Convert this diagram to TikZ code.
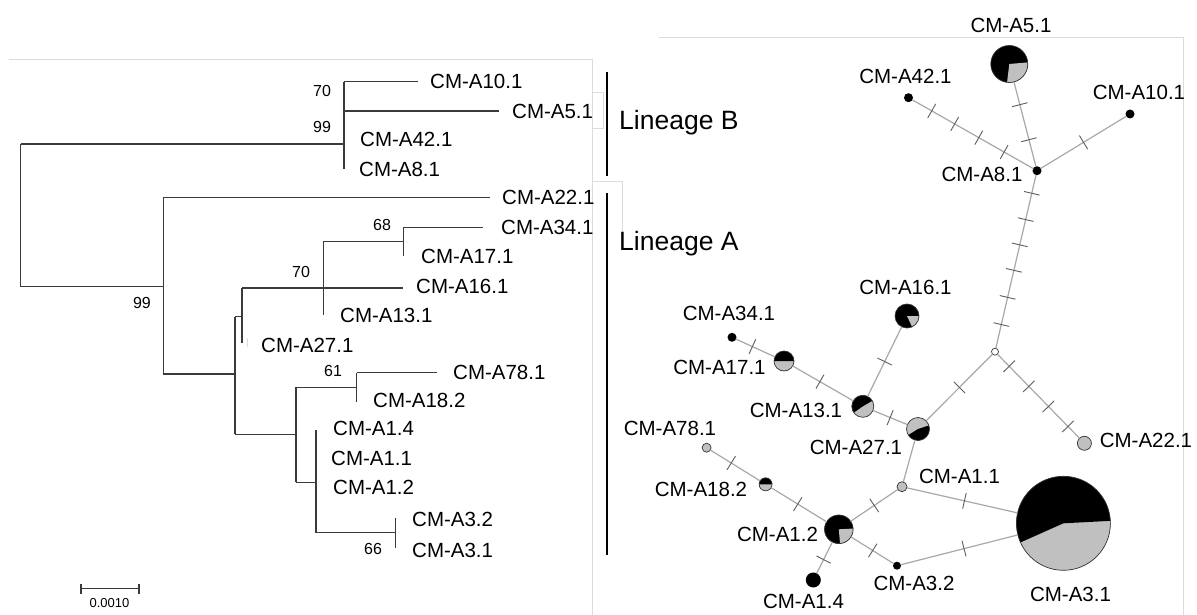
\documentclass[tikz,border=0pt]{standalone}
\usepackage{fontspec}
\setmainfont{Liberation Sans}
\usetikzlibrary{decorations.markings}
\definecolor{treec}{HTML}{3A3A3A}
\definecolor{edgec}{HTML}{A8A8A8}
\definecolor{tickc}{HTML}{5E5E5E}
\definecolor{pgray}{HTML}{C0C0C0}
\definecolor{framec}{HTML}{DCDCDC}
\definecolor{outc}{HTML}{333333}
\newcommand\tkm{\draw[tickc,line width=0.9pt] (0,-8pt)--(0,8pt);}
\newcommand\pienode[8]{%
  \node[circle,inner sep=0pt,outer sep=0pt,minimum size={2*#4pt},fill=#7] (#1) at (#2,#3) {};
  \fill[#8] (#1.center) -- ++(#5:#4pt) arc[start angle=#5,end angle=#6,radius=#4pt] -- cycle;
  \draw[outc,line width=0.7pt] (#1.center) circle[radius=#4pt];
}
\begin{document}
\begin{tikzpicture}[x=1pt,y=1pt,
  tree/.style={draw=treec,line width=1.5pt},
  framel/.style={draw=framec,line width=0.8pt},
  lab/.style={font=\fontsize{20.5}{24}\selectfont,inner sep=0pt},
  tlab/.style={lab,anchor=west},
  boot/.style={font=\fontsize{16}{18}\selectfont,inner sep=0pt},
  lin/.style={font=\fontsize{26.5}{30}\selectfont,inner sep=0pt,anchor=base west},
  edge/.style={draw=edgec,line width=1.2pt},
  ticks/.style={postaction={decorate,decoration={markings,#1}}},
  dot/.style={circle,fill=black,inner sep=0pt,outer sep=0pt},
  gdot/.style={circle,fill=pgray,draw=outc,line width=0.7pt,inner sep=0pt,outer sep=0pt}
]
\useasboundingbox (0,0) rectangle (1197,-615);
\fill[white] (0,0) rectangle (1197,-615);

% frames
\draw[framel] (9,-59) -- (592,-59) -- (592,-615);
\draw[framel] (592,-92) -- (603,-92) -- (603,-128) -- (592,-128);
\draw[framel] (592,-181) -- (622,-181) -- (622,-250);
\draw[framel] (659,-37) -- (1183,-37) -- (1183,-615);
\draw[framel] (247,-338) -- (247,-347);

% ---------- tree ----------
\draw[tree] (20.6,-144) -- (20.6,-286.7);
\draw[tree] (20.6,-144) -- (344,-144);
\draw[tree] (344,-81.7) -- (344,-169.3);
\draw[tree] (344,-81.7) -- (418,-81.7);
\draw[tree] (344,-111) -- (499,-111);
\draw[tree] (20.6,-286.7) -- (163.3,-286.7);
\draw[tree] (163.3,-197.7) -- (163.3,-374);
\draw[tree] (163.3,-197.7) -- (490,-197.7);
\draw[tree] (163.3,-374) -- (235,-374);
\draw[tree] (235,-316.7) -- (235,-434.3);
\draw[tree] (235,-316.7) -- (242,-316.7);
\draw[tree] (242,-288) -- (242,-343);
\draw[tree] (242,-288) -- (403,-288);
\draw[tree] (323.4,-241.7) -- (323.4,-315);
\draw[tree] (323.4,-241.7) -- (403.3,-241.7);
\draw[tree] (403.3,-227.7) -- (403.3,-256);
\draw[tree] (403.3,-227.7) -- (483,-227.7);
\draw[tree] (235,-434.3) -- (295.8,-434.3);
\draw[tree] (295.8,-387.3) -- (295.8,-482.3);
\draw[tree] (295.8,-387.3) -- (356.7,-387.3);
\draw[tree] (356.7,-372.7) -- (356.7,-401.7);
\draw[tree] (356.7,-372.7) -- (437,-372.7);
\draw[tree] (295.8,-482.3) -- (316,-482.3);
\draw[tree] (316,-430) -- (316,-532.7);
\draw[tree] (316,-532.7) -- (395.4,-532.7);
\draw[tree] (395.4,-518.3) -- (395.4,-547.7);

\node[tlab] (t101) at (430,-81.7) {CM-A10.1};
\node[tlab] (t51) at (512,-111) {CM-A5.1};
\node[tlab] (t421) at (360,-139.3) {CM-A42.1};
\node[tlab] (t81) at (359,-169.3) {CM-A8.1};
\node[tlab] (t221) at (502,-197.7) {CM-A22.1};
\node[tlab] (t341) at (501,-227.7) {CM-A34.1};
\node[tlab] (t171) at (421,-256.7) {CM-A17.1};
\node[tlab] (t161) at (416,-286.5) {CM-A16.1};
\node[tlab] (t131) at (340,-315) {CM-A13.1};
\node[tlab] (t271) at (261,-345) {CM-A27.1};
\node[tlab] (t781) at (453,-372.7) {CM-A78.1};
\node[tlab] (t182) at (373,-400) {CM-A18.2};
\node[tlab] (t14) at (333,-428.3) {CM-A1.4};
\node[tlab] (t11) at (331,-458.3) {CM-A1.1};
\node[tlab] (t12) at (333,-487.7) {CM-A1.2};
\node[tlab] (t32) at (412,-519) {CM-A3.2};
\node[tlab] (t31) at (412,-550) {CM-A3.1};

\node[boot] (b1) at (322,-91) {70};
\node[boot] (b2) at (322,-126.7) {99};
\node[boot] (b3) at (142,-303) {99};
\node[boot] (b4) at (382,-225) {68};
\node[boot] (b5) at (301,-271.7) {70};
\node[boot] (b6) at (333,-371) {61};
\node[boot] (b7) at (373,-549) {66};

% scale bar
\draw[treec,line width=1.2pt] (81,-588.3) -- (139,-588.3);
\draw[treec,line width=1.2pt] (81,-583.5) -- (81,-594);
\draw[treec,line width=1.2pt] (139,-583.5) -- (139,-594);
\node[font=\fontsize{13}{15}\selectfont,inner sep=0pt] (sb) at (109.5,-603) {0.0010};

% lineage bars
\draw[black,line width=2pt] (607,-72) -- (607,-176);
\draw[black,line width=2pt] (607,-193) -- (607,-555);
\node[lin] (linB) at (619,-129.3) {Lineage B};
\node[lin] (linA) at (619,-250) {Lineage A};

% ---------- network nodes ----------
\pienode{A51}{1009.3}{-64}{18.5}{-97}{5}{black}{pgray}
\node[dot,minimum size=9pt] (A421) at (908.5,-97.7) {};
\node[dot,minimum size=9pt] (A101) at (1130,-114) {};
\node[dot,minimum size=9pt] (A81) at (1037,-170.7) {};
\node[circle,fill=white,draw=outc,line width=0.7pt,inner sep=0pt,outer sep=0pt,minimum size=7pt] (mv) at (995,-351.7) {};
\pienode{A161}{907}{-316}{12}{-65}{0}{black}{pgray}
\node[dot,minimum size=9pt] (A341) at (732,-337.3) {};
\pienode{A171}{784}{-361}{10}{0}{180}{pgray}{black}
\pienode{A131}{862.8}{-406.3}{11}{30}{215}{pgray}{black}
\pienode{A271}{918}{-429}{11.5}{-148}{18}{pgray}{black}
\node[gdot,minimum size=14pt] (A221) at (1084.4,-443.3) {};
\node[gdot,minimum size=9pt] (A781) at (706.6,-447.7) {};
\node[gdot,minimum size=10pt] (A11) at (902,-486.7) {};
\pienode{A182}{765.6}{-484.3}{6.5}{0}{180}{pgray}{black}
\pienode{A12}{838.8}{-529.3}{14.3}{-85}{3}{black}{pgray}
\node[dot,minimum size=15pt] (A14) at (813.3,-580) {};
\node[dot,minimum size=8pt] (A32) at (897,-565.7) {};
\pienode{A31}{1063.4}{-523.3}{47}{3}{204}{pgray}{black}

% ---------- network edges ----------
\draw[edge,ticks={mark=at position 0.16 with {\tkm},mark=at position 0.35 with {\tkm},mark=at position 0.55 with {\tkm},mark=at position 0.76 with {\tkm}}] (A421) -- (A81);
\draw[edge,ticks={mark=at position 0.27 with {\tkm},mark=at position 0.685 with {\tkm}}] (A51) -- (A81);
\draw[edge,ticks={mark=at position 0.5 with {\tkm}}] (A101) -- (A81);
\draw[edge,ticks={mark=at position 0.105 with {\tkm},mark=at position 0.257 with {\tkm},mark=at position 0.403 with {\tkm},mark=at position 0.55 with {\tkm},mark=at position 0.706 with {\tkm},mark=at position 0.863 with {\tkm}}] (A81) -- (mv);
\draw[edge,ticks={mark=at position 0.144 with {\tkm},mark=at position 0.384 with {\tkm},mark=at position 0.624 with {\tkm},mark=at position 0.863 with {\tkm}}] (mv) -- (A221);
\draw[edge,ticks={mark=at position 0.5 with {\tkm}}] (mv) -- (A271);
\draw[edge,ticks={mark=at position 0.5 with {\tkm}}] (A131) -- (A271);
\draw[edge,ticks={mark=at position 0.5 with {\tkm}}] (A161) -- (A131);
\draw[edge,ticks={mark=at position 0.45 with {\tkm}}] (A171) -- (A131);
\draw[edge,ticks={mark=at position 0.42 with {\tkm}}] (A341) -- (A171);
\draw[edge] (A271) -- (A11);
\draw[edge,ticks={mark=at position 0.5 with {\tkm}}] (A12) -- (A11);
\draw[edge,ticks={mark=at position 0.48 with {\tkm}}] (A182) -- (A12);
\draw[edge,ticks={mark=at position 0.42 with {\tkm}}] (A781) -- (A182);
\draw[edge,ticks={mark=at position 0.56 with {\tkm}}] (A12) -- (A14);
\draw[edge,ticks={mark=at position 0.51 with {\tkm}}] (A12) -- (A32);
\draw[edge,ticks={mark=at position 0.52 with {\tkm}}] (A11) -- (A31);
\draw[edge,ticks={mark=at position 0.54 with {\tkm}}] (A32) -- (A31);

% ---------- network labels ----------
\node[lab] (n51) at (1011,-25.5) {CM-A5.1};
\node[lab] (n421) at (905.5,-76) {CM-A42.1};
\node[lab] (n101) at (1139,-92) {CM-A10.1};
\node[lab] (n81) at (982,-174.5) {CM-A8.1};
\node[lab] (n161) at (905.5,-287.5) {CM-A16.1};
\node[lab] (n341) at (729,-313.5) {CM-A34.1};
\node[lab] (n171) at (719.5,-367.5) {CM-A17.1};
\node[lab] (n131) at (796,-410.5) {CM-A13.1};
\node[lab] (n271) at (856,-447.5) {CM-A27.1};
\node[lab] (n221) at (1146,-440) {CM-A22.1};
\node[lab] (n781) at (670,-428) {CM-A78.1};
\node[lab] (n11) at (959.5,-476) {CM-A1.1};
\node[lab] (n182) at (701,-489.5) {CM-A18.2};
\node[lab] (n12) at (777.5,-534) {CM-A1.2};
\node[lab] (n14) at (803.5,-601) {CM-A1.4};
\node[lab] (n32) at (914,-583) {CM-A3.2};
\node[lab] (n31) at (1070.5,-594.5) {CM-A3.1};
\end{tikzpicture}
\end{document}
